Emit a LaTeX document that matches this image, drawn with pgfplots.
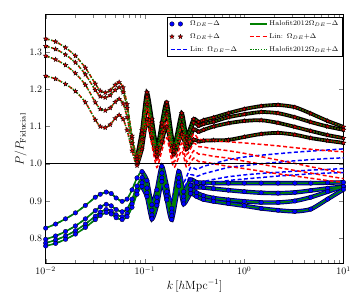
\documentclass[border=0pt]{standalone}
\usepackage{pgfplots}
\pgfplotsset{compat=1.18}
\usepackage{pgfplotstable}

\pgfdeclareplotmark{fstar}{%
  \pgfpathmoveto{\pgfpointpolar{90}{\pgfplotmarksize}}%
  \pgfpathlineto{\pgfpointpolar{126}{0.42\pgfplotmarksize}}%
  \pgfpathlineto{\pgfpointpolar{162}{\pgfplotmarksize}}%
  \pgfpathlineto{\pgfpointpolar{198}{0.42\pgfplotmarksize}}%
  \pgfpathlineto{\pgfpointpolar{234}{\pgfplotmarksize}}%
  \pgfpathlineto{\pgfpointpolar{270}{0.42\pgfplotmarksize}}%
  \pgfpathlineto{\pgfpointpolar{306}{\pgfplotmarksize}}%
  \pgfpathlineto{\pgfpointpolar{342}{0.42\pgfplotmarksize}}%
  \pgfpathlineto{\pgfpointpolar{18}{\pgfplotmarksize}}%
  \pgfpathlineto{\pgfpointpolar{54}{0.42\pgfplotmarksize}}%
  \pgfpathclose\pgfusepathqfillstroke}

\definecolor{mplgreen}{rgb}{0,0.5,0}
\pgfplotsset{
  twomarks/.style={legend image code/.code={\draw[##1] plot coordinates {(0.05cm,0cm) (0.35cm,0cm)};}},
  circ/.style={only marks, mark=*, mark size=2.3pt, mark options={fill=blue, draw=black, line width=0.3pt}, twomarks},
  stars/.style={only marks, mark=fstar, mark size=2.5pt, mark options={fill=red!85!black, draw=black, line width=0.3pt}, twomarks},
  linm/.style={draw=blue, color=blue, line width=1.5pt, dash pattern=on 4pt off 2.5pt, smooth, tension=0.4},
  linp/.style={draw=red, color=red, line width=1.5pt, dash pattern=on 4pt off 2.5pt, smooth, tension=0.4},
  halm/.style={draw=mplgreen, color=mplgreen, line width=1.6pt, smooth, tension=0.4},
  halp/.style={draw=mplgreen, color=mplgreen, line width=1.5pt, dash pattern=on 1.2pt off 1.6pt, smooth, tension=0.4},
}

% Omega_DE + Delta : nonlinear (U) and linear (R)
\pgfplotstableread{
k U1 U2 U3 U4 R1 R2 R3 R4
0.01000 1.336 1.316 1.290 1.236 1.336 1.316 1.290 1.236
0.01259 1.328 1.308 1.280 1.228 1.328 1.308 1.280 1.228
0.01585 1.312 1.293 1.265 1.214 1.312 1.293 1.265 1.214
0.01995 1.290 1.272 1.243 1.195 1.290 1.272 1.243 1.195
0.02512 1.258 1.240 1.212 1.165 1.258 1.240 1.212 1.165
0.03162 1.215 1.198 1.165 1.118 1.215 1.198 1.165 1.118
0.03548 1.196 1.181 1.147 1.100 1.196 1.181 1.147 1.100
0.03981 1.191 1.178 1.143 1.097 1.191 1.178 1.143 1.097
0.04467 1.197 1.184 1.150 1.105 1.197 1.184 1.150 1.105
0.05012 1.212 1.198 1.166 1.122 1.212 1.198 1.166 1.122
0.05495 1.219 1.205 1.174 1.131 1.219 1.205 1.174 1.131
0.06026 1.205 1.192 1.162 1.120 1.205 1.192 1.162 1.120
0.06607 1.160 1.150 1.125 1.090 1.160 1.150 1.125 1.090
0.07413 1.075 1.068 1.055 1.035 1.075 1.068 1.055 1.035
0.08318 1.020 1.012 1.005 0.995 1.020 1.012 1.005 0.995
0.09333 1.090 1.080 1.065 1.040 1.090 1.080 1.065 1.040
0.1047 1.192 1.180 1.160 1.120 1.180 1.165 1.145 1.110
0.1175 1.120 1.112 1.095 1.070 1.100 1.090 1.075 1.050
0.1318 1.045 1.040 1.032 1.020 1.030 1.015 1.005 0.990
0.1479 1.110 1.100 1.085 1.060 1.090 1.075 1.060 1.035
0.1660 1.165 1.155 1.135 1.100 1.130 1.115 1.100 1.070
0.1950 1.050 1.045 1.035 1.025 1.040 1.020 1.005 0.990
0.2344 1.136 1.125 1.105 1.080 1.100 1.075 1.055 1.035
0.2630 1.075 1.068 1.055 1.040 1.045 1.025 1.005 0.990
0.3090 1.120 1.110 1.092 1.065 1.080 1.055 1.035 1.015
0.3467 1.112 1.102 1.086 1.060 1.066 1.046 1.026 1.006
0.3890 1.117 1.107 1.091 1.062 1.065 1.045 1.025 1.005
0.4898 1.124 1.113 1.100 1.063 1.062 1.040 1.020 1.000
0.6918 1.136 1.125 1.109 1.064 1.059 1.035 1.015 0.993
1.0000 1.147 1.133 1.115 1.072 1.056 1.028 1.007 0.987
1.4790 1.155 1.139 1.117 1.080 1.052 1.019 0.999 0.980
2.1880 1.158 1.136 1.110 1.083 1.048 1.010 0.990 0.973
3.2360 1.152 1.125 1.099 1.078 1.043 1.001 0.982 0.967
4.6770 1.135 1.112 1.088 1.069 1.039 0.992 0.975 0.961
6.9180 1.115 1.100 1.077 1.062 1.035 0.983 0.967 0.955
10.000 1.099 1.091 1.069 1.056 1.032 0.975 0.960 0.950
}\tabplus

% Omega_DE - Delta : nonlinear (L) and linear (B)
\pgfplotstableread{
k L1 L2 L3 L4 B1 B2 B3 B4
0.01000 0.827 0.797 0.787 0.779 0.827 0.797 0.787 0.779
0.01259 0.838 0.806 0.795 0.786 0.838 0.806 0.795 0.786
0.01585 0.852 0.818 0.806 0.797 0.852 0.818 0.806 0.797
0.01995 0.868 0.833 0.820 0.811 0.868 0.833 0.820 0.811
0.02512 0.888 0.852 0.838 0.829 0.888 0.852 0.838 0.829
0.03162 0.910 0.874 0.859 0.850 0.910 0.874 0.859 0.850
0.03548 0.918 0.884 0.870 0.861 0.918 0.884 0.870 0.861
0.04074 0.924 0.891 0.877 0.869 0.924 0.891 0.877 0.869
0.04571 0.920 0.887 0.873 0.865 0.920 0.887 0.873 0.865
0.05129 0.908 0.877 0.863 0.855 0.908 0.877 0.863 0.855
0.05888 0.899 0.871 0.858 0.850 0.899 0.871 0.858 0.850
0.06607 0.905 0.878 0.866 0.858 0.905 0.878 0.866 0.858
0.07413 0.930 0.905 0.892 0.883 0.930 0.905 0.892 0.883
0.08318 0.962 0.940 0.927 0.918 0.962 0.940 0.927 0.918
0.09333 0.979 0.963 0.949 0.939 0.979 0.963 0.949 0.939
0.1047 0.955 0.935 0.922 0.912 0.950 0.932 0.920 0.910
0.1175 0.890 0.875 0.862 0.852 0.890 0.875 0.862 0.852
0.1318 0.930 0.910 0.898 0.888 0.935 0.915 0.902 0.892
0.1479 0.993 0.975 0.962 0.952 0.990 0.972 0.960 0.950
0.1660 0.940 0.925 0.913 0.903 0.945 0.930 0.918 0.908
0.1862 0.880 0.870 0.860 0.850 0.900 0.885 0.872 0.862
0.2188 0.979 0.962 0.950 0.940 0.985 0.968 0.955 0.945
0.2455 0.925 0.912 0.902 0.892 0.950 0.935 0.922 0.912
0.2884 0.957 0.942 0.930 0.920 0.990 0.970 0.952 0.942
0.3311 0.950 0.937 0.922 0.912 0.985 0.966 0.948 0.938
0.3890 0.949 0.936 0.914 0.904 0.993 0.973 0.952 0.942
0.4898 0.948 0.933 0.908 0.899 1.000 0.980 0.958 0.948
0.6918 0.948 0.929 0.903 0.893 1.011 0.990 0.965 0.955
1.0000 0.948 0.925 0.899 0.887 1.018 0.995 0.970 0.959
1.4790 0.948 0.922 0.896 0.880 1.023 1.000 0.974 0.963
2.1880 0.948 0.921 0.896 0.875 1.027 1.004 0.977 0.967
3.2360 0.948 0.923 0.900 0.872 1.031 1.008 0.980 0.970
4.6770 0.948 0.928 0.910 0.878 1.034 1.011 0.983 0.973
6.9180 0.949 0.934 0.925 0.905 1.037 1.014 0.985 0.975
10.000 0.950 0.939 0.939 0.931 1.040 1.016 0.987 0.976
}\tabminus

\begin{document}
\begin{tikzpicture}
\begin{axis}[
  name=ax,
  scale only axis,
  width=300bp, height=250bp,
  xmode=log,
  xmin=0.01, xmax=10,
  ymin=0.733, ymax=1.40,
  ytick={0.8,0.9,1.0,1.1,1.2,1.3},
  yticklabel style={/pgf/number format/.cd, fixed, precision=1, fixed zerofill},
  tick label style={font=\normalsize},
  xlabel={$k\,[h\mathrm{Mpc}^{-1}]$},
  ylabel={$P/P_{\mathrm{Fiducial}}$},
  label style={font=\large},
  xlabel style={yshift=2pt},
  ylabel style={yshift=-4pt},
  axis line style={line width=0.8pt},
  legend columns=3,
  transpose legend,
  legend style={at={(0.997,0.993)}, anchor=north east, font=\scriptsize,
    inner sep=2pt, row sep=2.5pt,
    /tikz/every even column/.append style={column sep=10pt}},
  legend cell align=left,
]
% dense marker bands where the markers overlap (high k)
\foreach \c in {L1,L2,L3,L4}{
  \addplot[forget plot, black!80!blue, line width=4.4pt, smooth, tension=0.4, skip coords between index={0}{14}] table[x=k, y=\c] {\tabminus};
  \addplot[forget plot, blue, line width=3pt, smooth, tension=0.4, skip coords between index={0}{14}] table[x=k, y=\c] {\tabminus};
}
\foreach \c in {U1,U2,U3,U4}{
  \addplot[forget plot, black, line width=3.8pt, smooth, tension=0.4, skip coords between index={0}{14}] table[x=k, y=\c] {\tabplus};
  \addplot[forget plot, red!75!black, line width=1.6pt, dash pattern=on 1.5pt off 1.5pt, smooth, tension=0.4, skip coords between index={0}{14}] table[x=k, y=\c] {\tabplus};
}
% markers: Omega_DE - Delta (blue circles)
\addplot[circ] table[x=k, y=L1] {\tabminus};
\addlegendentry{$\Omega_{DE}{-}\Delta$}
\foreach \c in {L2,L3,L4}{
  \addplot[forget plot, circ] table[x=k, y=\c] {\tabminus};
}
% markers: Omega_DE + Delta (red stars)
\addplot[stars] table[x=k, y=U1] {\tabplus};
\addlegendentry{$\Omega_{DE}{+}\Delta$}
\foreach \c in {U2,U3,U4}{
  \addplot[forget plot, stars] table[x=k, y=\c] {\tabplus};
}
% linear minus (blue dashed)
\addplot[linm] table[x=k, y=B1] {\tabminus};
\addlegendentry{Lin: $\Omega_{DE}{-}\Delta$}
\foreach \c in {B2,B3,B4}{
  \addplot[forget plot, linm] table[x=k, y=\c] {\tabminus};
}
% halofit minus (green solid)
\addplot[halm] table[x=k, y=L1] {\tabminus};
\addlegendentry{Halofit2012$\Omega_{DE}{-}\Delta$}
\foreach \c in {L2,L3,L4}{
  \addplot[forget plot, halm] table[x=k, y=\c] {\tabminus};
}
% linear plus (red dashed)
\addplot[linp] table[x=k, y=R1] {\tabplus};
\addlegendentry{Lin: $\Omega_{DE}{+}\Delta$}
\foreach \c in {R2,R3,R4}{
  \addplot[forget plot, linp] table[x=k, y=\c] {\tabplus};
}
% halofit plus (green dotted)
\addplot[halp] table[x=k, y=U1] {\tabplus};
\addlegendentry{Halofit2012$\Omega_{DE}{+}\Delta$}
\foreach \c in {U2,U3,U4}{
  \addplot[forget plot, halp] table[x=k, y=\c] {\tabplus};
}
\addplot[forget plot, black, line width=1pt] coordinates {(0.01,1) (10,1)};
\end{axis}
\path ([xshift=-46bp,yshift=-30bp]ax.south west) rectangle ([xshift=8bp,yshift=15bp]ax.north east);
\end{tikzpicture}
\end{document}
